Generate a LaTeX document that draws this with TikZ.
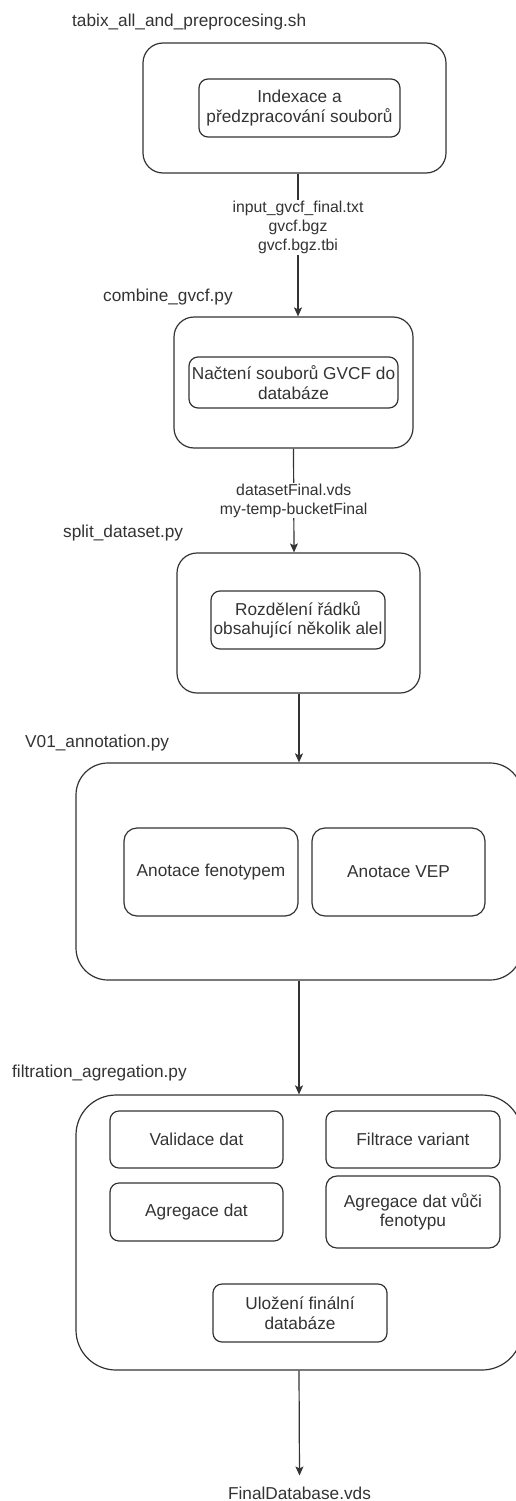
\documentclass[tikz,border=0pt]{standalone}
\usepackage{fontspec}
\setmainfont{Liberation Sans}
\usetikzlibrary{arrows.meta}

\begin{document}
\begin{tikzpicture}[x=1pt, y=-1pt,
	font=\fontsize{17.25}{19.5}\selectfont,
	every node/.style={text=black!80},
	stage/.style={draw=black!80, line width=1.2pt, rounded corners=#1, inner sep=0pt},
	stage/.default=20pt,
	task/.style={draw=black!80, line width=1.2pt, rounded corners=#1, inner sep=0pt, align=center},
	task/.default=9pt,
	script/.style={anchor=west, inner sep=0pt},
	flow/.style={draw=black!80, line width=1.2pt, -{Stealth[length=9pt, width=8pt, inset=2pt]}},
	files/.style={fill=white, align=center, inner sep=1pt, font=\fontsize{15.8}{19}\selectfont}
]

	% ---- page

	\useasboundingbox (0,0) rectangle (516,1501);

	% ---- scripts

	\node[script] (s1) at (72,22)   {tabix\_all\_and\_preprocesing.sh};
	\node[script] (s2) at (103,297) {combine\_gvcf.py};
	\node[script] (s3) at (63,533)  {split\_dataset.py};
	\node[script] (s4) at (25,743)  {V01\_annotation.py};
	\node[script] (s5) at (12,1073) {filtration\_agregation.py};

	% ---- stages

	\node[stage] (p1) at (294.5,108)  [minimum width=303pt, minimum height=130pt] {};
	\node[stage] (p2) at (293.5,382.5) [minimum width=239pt, minimum height=131pt] {};
	\node[stage] (p3) at (298.5,623)  [minimum width=243pt, minimum height=140pt] {};
	\node[stage=32pt] (p4) at (299,871.5)  [minimum width=446pt, minimum height=217pt] {};
	\node[stage=40pt] (p5) at (299,1232.5) [minimum width=446pt, minimum height=275pt] {};

	% ---- tasks

	\node[task] (t1) at (299.5,108) [minimum width=201pt, minimum height=58pt]
		{Indexace a\\předzpracování souborů};
	\node[task] (t2) at (293.5,382.5) [minimum width=209pt, minimum height=51pt]
		{Načtení souborů GVCF do\\databáze};
	\node[task] (t3) at (298,620) [minimum width=174pt, minimum height=58pt]
		{Rozdělení řádků\\obsahující několik alel};

	\node[task=13pt] (ta) at (211,872)   [minimum width=174pt, minimum height=88pt] {Anotace fenotypem};
	\node[task=13pt] (tb) at (398.5,872) [minimum width=173pt, minimum height=88pt] {Anotace VEP};

	\node[task] (tv) at (196.5,1139.5) [minimum width=173pt, minimum height=57pt] {Validace dat};
	\node[task] (tf) at (413,1139.5)   [minimum width=174pt, minimum height=57pt] {Filtrace variant};
	\node[task] (tg) at (196.5,1212)   [minimum width=173pt, minimum height=58pt] {Agregace dat};
	\node[task=11pt] (tp) at (413,1212) [minimum width=174pt, minimum height=72pt]
		{Agregace dat vůči\\fenotypu};
	\node[task] (tu) at (300,1313) [minimum width=174pt, minimum height=58pt]
		{Uložení finální\\databáze};

	% ---- output

	\node[inner sep=0pt] (fin) at (299.5,1493) {FinalDatabase.vds};

	% ---- flow

	\draw[flow] ([xshift=3.5pt]p1.south) -- node[files, pos=0.375]
		{input\_gvcf\_final.txt\\gvcf.bgz\\gvcf.bgz.tbi} ([xshift=4.5pt]p2.north);
	\draw[flow] (p2.south) -- node[files]
		{datasetFinal.vds\\my-temp-bucketFinal} ([xshift=-4.5pt]p3.north);
	\draw[flow] ([xshift=0.5pt]p3.south) -- (p4.north);
	\draw[flow] (p4.south) -- (p5.north);
	\draw[flow] (p5.south) -- ([yshift=11pt]fin.north);

\end{tikzpicture}
\end{document}
